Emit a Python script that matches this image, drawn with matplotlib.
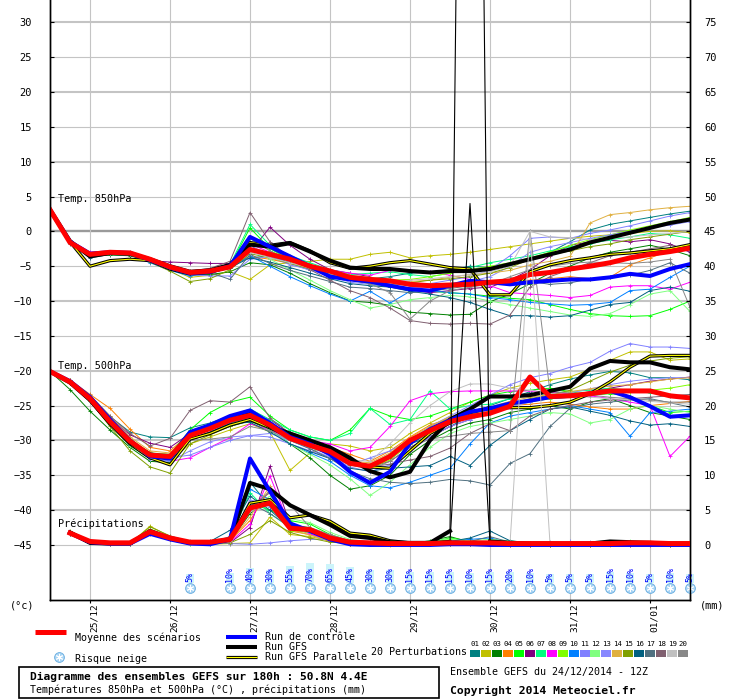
import numpy as np
import matplotlib.pyplot as plt
import matplotlib.transforms as mtransforms
from matplotlib.patches import Rectangle

plt.rcParams['font.family'] = ['DejaVu Sans Mono', 'DejaVu Sans']

nan = np.nan

# time axis: 6h steps from 24/12 12Z
hours = list(range(0, 193, 6))
date_hours = [12, 36, 60, 84, 108, 132, 156, 180]
date_labels = ['25/12', '26/12', '27/12', '28/12', '29/12', '30/12', '31/12', '01/01']

pert_colors = ['#008080', '#c0c000', '#008000', '#ff8000', '#00ff00', '#800080', '#00ff80',
               '#ff00ff', '#80ff00', '#0080ff', '#8080ff', '#80ff80', '#8888ff', '#e0b040',
               '#80a000', '#006080', '#507080', '#806070', '#c0c0c0', '#888888']

# ---- Temp 850 hPa (degC)
t850_mean = [3.1, -1.6, -3.3, -3.0, -3.1, -4.0, -5.1, -5.9, -5.7, -5.1, -2.6, -3.3, -4.0, -5.0, -5.7, -6.6, -6.9, -7.1, -7.6, -7.8, -7.7, -7.6, -7.3, -7.1, -6.2, -5.9, -5.4, -5.0, -4.5, -3.8, -3.3, -2.9, -2.4]
t850_ctrl = [3.1, -1.5, -3.2, -3.0, -3.1, -4.1, -5.2, -6.0, -5.8, -5.0, -0.8, -2.2, -3.6, -5.0, -6.5, -6.9, -7.2, -7.8, -8.3, -8.5, -7.8, -7.1, -7.3, -7.6, -7.3, -7.1, -6.9, -6.9, -6.6, -6.1, -6.4, -5.4, -4.7]
t850_gfs = [3.1, -1.4, -3.6, -3.1, -3.2, -4.0, -5.0, -5.8, -5.6, -4.8, -1.9, -2.2, -1.7, -2.9, -4.2, -5.2, -5.4, -5.4, -5.7, -5.9, -5.7, -5.7, -5.4, -4.7, -4.0, -3.3, -2.6, -1.6, -0.9, -0.2, 0.5, 1.2, 1.7]
t850_gfsp = [3.1, -1.5, -5.0, -4.2, -4.0, -4.2, -5.4, -6.1, -5.9, -5.0, -1.6, -2.0, -1.6, -2.8, -4.5, -5.3, -5.0, -4.5, -4.2, -4.7, -5.2, -5.4, -9.1, -9.1, -5.8, -4.8, -4.2, -3.8, -3.3, -3.1, -2.8, -2.5, -1.9]
t850_pert = [
    [3.0, -1.8, -3.6, -3.2, -3.3, -4.1, -5.0, -5.8, -5.5, -4.8, -3.8, -3.5, -4.5, -5.5, -6.0, -6.5, -6.8, -6.5, -6.0, -5.8, -5.5, -5.0, -5.2, -4.8, -4.0, -3.0, -1.5, 0.2, 1.0, 1.5, 2.0, 2.5, 2.9],
    [3.0, -1.7, -3.4, -3.1, -3.3, -4.2, -5.4, -6.6, -6.3, -5.8, -6.9, -4.8, -4.5, -4.3, -4.0, -4.0, -3.3, -3.0, -3.8, -3.5, -3.3, -3.0, -2.6, -2.2, -1.8, -1.4, -1.0, -0.7, -0.5, -0.3, 0.0, 0.1, -0.2],
    [3.0, -1.5, -3.6, -3.4, -3.5, -4.3, -5.5, -6.3, -6.2, -5.8, -4.5, -4.8, -6.0, -7.5, -8.8, -10.0, -10.2, -10.6, -11.6, -11.8, -12.0, -11.9, -10.1, -9.0, -7.5, -6.0, -5.0, -3.8, -3.0, -2.5, -2.0, -2.6, -3.5],
    [3.0, -1.4, -3.3, -2.9, -3.0, -3.9, -5.0, -5.7, -5.5, -4.9, -3.6, -4.0, -4.6, -5.5, -6.0, -6.8, -7.0, -7.3, -7.6, -7.9, -8.0, -7.8, -7.5, -7.2, -7.0, -6.8, -6.5, -6.8, -6.6, -4.8, -3.8, -2.8, -1.9],
    [3.0, -1.6, -3.4, -3.1, -3.2, -4.0, -5.2, -6.0, -5.8, -5.0, 0.5, -2.5, -4.0, -4.8, -5.8, -7.0, -7.5, -8.0, -8.3, -8.6, -8.8, -9.0, -9.3, -9.6, -9.8, -10.5, -11.2, -11.8, -12.1, -12.2, -12.1, -11.2, -10.0],
    [3.0, -1.6, -3.3, -3.0, -3.3, -4.2, -4.4, -4.5, -4.6, -4.6, -3.0, 0.6, -2.0, -4.0, -5.5, -6.0, -6.5, -7.8, -8.4, -8.8, -8.5, -8.2, -8.0, -7.0, -5.5, -3.5, -2.0, -1.5, -1.3, -1.5, -1.2, -1.8, -3.0],
    [3.0, -1.5, -3.2, -3.0, -3.1, -4.0, -5.0, -5.9, -5.6, -4.8, 1.0, -2.0, -3.5, -4.5, -5.5, -6.2, -6.0, -5.8, -6.2, -6.5, -6.0, -5.2, -4.5, -4.0, -3.5, -2.8, -2.2, -1.8, -1.2, -0.8, -0.3, -0.5, -1.0],
    [3.0, -1.3, -3.0, -2.9, -3.1, -3.9, -5.0, -5.8, -5.5, -4.9, -1.8, -3.0, -4.2, -5.0, -5.6, -6.0, -6.3, -5.6, -5.6, -5.8, -6.3, -6.9, -7.8, -8.8, -9.0, -9.2, -9.5, -9.2, -8.0, -7.8, -7.8, -8.3, -7.3],
    [3.0, -1.5, -3.4, -3.1, -3.2, -4.1, -5.2, -6.1, -5.9, -5.0, -1.0, -2.8, -4.0, -5.0, -5.8, -6.5, -6.8, -7.0, -6.9, -6.5, -6.0, -5.5, -5.0, -4.5, -3.8, -3.0, -2.0, -1.2, -0.5, 0.2, 0.8, 1.4, 2.0],
    [3.0, -1.6, -3.5, -3.3, -3.4, -4.5, -5.6, -6.4, -6.0, -5.3, -3.5, -5.0, -6.5, -7.8, -9.0, -10.0, -8.6, -10.3, -8.6, -8.5, -8.8, -9.0, -9.5, -9.8, -10.2, -10.4, -10.6, -10.5, -10.2, -8.5, -8.3, -6.6, -5.0],
    [3.0, -1.4, -3.1, -2.9, -3.0, -4.0, -5.3, -6.2, -6.4, -6.4, -4.0, -3.6, -4.8, -5.5, -6.3, -7.0, -7.2, -7.5, -7.8, -7.5, -7.0, -6.5, -5.5, -3.5, -1.0, -0.8, -1.0, -0.3, 0.2, 0.8, 1.5, 2.2, 2.7],
    [3.0, -1.6, -3.4, -3.2, -3.3, -4.1, -5.3, -6.1, -5.8, -5.2, -2.5, -4.0, -5.5, -7.0, -8.5, -9.8, -11.0, -10.5, -9.8, -9.5, -9.2, -9.4, -10.0, -10.5, -11.0, -11.5, -12.0, -12.2, -11.8, -10.5, -9.0, -8.5, -11.5],
    [3.0, -1.5, -3.2, -3.0, -3.2, -4.1, -5.1, -5.8, -5.5, -4.6, -2.0, -3.5, -4.6, -5.6, -6.4, -7.3, -7.6, -7.9, -8.1, -8.0, -7.6, -7.2, -6.5, -5.0, -3.0, -2.2, -1.6, -1.0, -0.5, 0.0, 0.5, 0.9, 1.4],
    [3.0, -1.5, -3.5, -3.2, -3.3, -4.2, -5.2, -5.9, -5.6, -4.9, -2.8, -3.2, -4.0, -4.8, -5.5, -6.3, -6.6, -6.9, -7.2, -7.0, -6.6, -6.2, -6.0, -5.6, -4.8, -4.3, -3.6, 1.2, 2.4, 2.7, 3.1, 3.4, 3.6],
    [3.0, -1.6, -3.5, -3.3, -3.4, -4.4, -5.7, -7.2, -6.8, -5.5, -3.2, -3.8, -4.6, -5.4, -6.2, -7.0, -7.4, -7.6, -7.4, -7.0, -6.8, -6.5, -6.0, -5.2, -4.0, -3.4, -2.8, -2.2, -1.8, -1.2, -0.8, -0.4, 0.0],
    [3.0, -1.7, -3.8, -3.3, -3.4, -4.3, -5.3, -6.1, -5.9, -5.2, -3.8, -4.4, -5.2, -6.0, -6.8, -7.5, -7.8, -8.0, -8.6, -9.0, -9.5, -10.2, -11.2, -12.1, -12.1, -12.3, -12.1, -11.3, -10.5, -10.2, -8.5, -8.0, -8.6],
    [3.0, -1.6, -3.5, -3.2, -3.3, -4.2, -5.3, -6.0, -5.9, -6.9, -3.3, -4.6, -5.6, -6.4, -7.2, -8.0, -8.2, -8.5, -8.8, -8.6, -8.2, -7.8, -7.4, -7.0, -7.2, -7.6, -7.4, -6.8, -6.6, -6.3, -5.6, -4.5, -6.0],
    [3.0, -1.4, -3.2, -3.0, -3.1, -4.0, -5.0, -5.7, -5.3, -4.3, 2.7, -1.5, -3.8, -5.5, -7.0, -8.5, -9.5, -11.0, -12.8, -13.2, -13.3, -13.2, -13.3, -12.0, -8.0, -6.5, -5.5, -4.5, -3.5, -3.0, -2.5, -2.0, -2.5],
    [3.0, -1.5, -3.3, -3.1, -3.2, -4.0, -5.0, -5.8, -5.6, -5.0, -3.0, -3.8, -4.5, -5.3, -6.0, -6.8, -7.0, -7.2, -7.0, -6.8, -6.5, -6.2, -5.8, -5.0, 0.0, -0.8, -0.9, -1.2, -1.0, -0.8, -0.5, -0.3, 0.0],
    [3.0, -1.5, -3.3, -3.0, -3.2, -4.1, -5.1, -5.9, -5.6, -4.9, -1.0, -2.8, -4.2, -5.2, -6.2, -7.0, -7.5, -8.8, -12.6, -10.0, -8.5, -8.0, -7.6, -6.5, -5.5, -5.0, -4.6, -4.4, -4.5, -4.6, -4.4, -4.0, -10.9],
]

# ---- Temp 500 hPa (degC)
t500_mean = [-20.1, -21.6, -24.0, -27.3, -30.1, -32.1, -32.3, -29.3, -28.3, -27.1, -26.4, -27.8, -29.7, -30.7, -31.6, -33.3, -33.7, -32.3, -30.0, -28.6, -27.3, -26.6, -26.1, -25.1, -20.9, -23.7, -23.6, -23.3, -22.9, -22.9, -22.9, -23.6, -23.9]
t500_ctrl = [-20.1, -21.5, -23.8, -27.0, -30.0, -32.3, -32.6, -28.8, -27.8, -26.5, -25.7, -27.5, -29.5, -30.5, -32.0, -34.5, -36.1, -34.5, -30.4, -28.4, -27.1, -25.9, -25.4, -24.7, -24.3, -23.8, -23.6, -23.3, -22.9, -23.8, -25.1, -26.6, -26.4]
t500_gfs = [-20.1, -21.7, -24.2, -27.5, -30.3, -32.0, -32.5, -29.0, -28.0, -27.0, -26.2, -28.0, -29.0, -30.0, -31.0, -32.5, -34.4, -35.3, -34.5, -30.0, -27.0, -25.5, -23.7, -23.7, -23.5, -22.9, -22.3, -19.7, -18.6, -18.8, -18.8, -19.5, -19.8]
t500_gfsp = [-20.1, -21.6, -24.2, -27.6, -30.5, -32.5, -33.5, -29.8, -29.0, -27.8, -27.0, -28.2, -29.5, -30.3, -31.5, -33.0, -33.8, -34.0, -31.5, -29.0, -27.5, -26.0, -25.3, -25.3, -25.3, -25.0, -24.5, -23.3, -21.6, -19.5, -17.9, -17.8, -17.8]
t500_pert = [
    [-20.0, -21.4, -23.6, -26.6, -28.8, -29.5, -29.6, -28.2, -27.5, -26.5, -27.0, -28.0, -29.0, -30.0, -31.5, -33.0, -33.5, -32.0, -30.5, -29.5, -28.0, -26.5, -25.0, -24.0, -23.0, -22.0, -21.2, -20.6, -20.1, -20.3, -21.0, -21.0, -21.3],
    [-20.1, -21.7, -24.2, -27.5, -30.2, -32.5, -33.0, -30.5, -29.5, -28.5, -27.6, -28.8, -34.3, -31.8, -30.5, -30.8, -31.5, -31.0, -29.0, -27.5, -26.0, -24.5, -23.5, -22.5, -21.8, -21.3, -20.9, -19.8, -18.5, -17.3, -17.3, -18.5, -18.3],
    [-20.1, -22.7, -25.8, -28.5, -31.0, -33.0, -33.2, -30.0, -29.0, -28.0, -27.2, -28.5, -30.5, -32.5, -35.0, -37.0, -36.5, -35.0, -32.0, -30.0, -28.5, -27.5, -27.0, -26.0, -25.5, -25.0, -25.5, -24.5, -24.0, -25.0, -26.0, -26.5, -27.0],
    [-20.1, -21.3, -23.4, -25.4, -28.4, -31.0, -31.5, -29.0, -28.0, -27.0, -26.0, -27.5, -29.0, -30.5, -31.0, -32.0, -33.0, -31.5, -29.5, -27.8, -26.8, -26.0, -25.5, -25.0, -24.8, -24.5, -24.8, -25.2, -25.5, -25.5, -25.0, -24.7, -24.4],
    [-20.1, -21.6, -24.0, -27.0, -29.8, -31.8, -32.0, -28.5, -26.0, -24.5, -23.8, -26.5, -28.5, -29.5, -30.0, -28.5, -25.4, -26.5, -27.0, -26.5, -25.5, -24.5, -23.5, -23.0, -22.8, -22.5, -23.0, -23.5, -23.3, -23.6, -25.0, -26.0, -25.8],
    [-20.1, -21.5, -23.7, -26.8, -29.2, -30.4, -31.0, -29.0, -28.5, -27.5, -26.5, -27.0, -29.0, -30.5, -31.8, -33.2, -33.8, -33.0, -31.0, -29.5, -28.0, -27.0, -26.0, -25.0, -24.2, -23.8, -23.5, -23.0, -22.5, -22.0, -21.5, -21.2, -20.9],
    [-20.1, -21.6, -24.0, -27.2, -30.0, -32.0, -32.2, -29.0, -28.0, -26.5, -25.5, -27.0, -28.5, -29.5, -30.0, -29.0, -25.4, -27.7, -27.0, -22.9, -25.5, -25.0, -24.8, -24.0, -23.5, -23.2, -23.0, -22.8, -22.5, -22.8, -23.2, -23.5, -24.0],
    [-20.1, -21.5, -23.8, -27.0, -30.0, -32.2, -33.0, -32.5, -31.0, -29.6, -27.6, -28.5, -29.8, -30.0, -30.5, -31.5, -31.0, -28.0, -24.3, -23.3, -23.0, -22.9, -22.9, -22.9, -22.9, -23.1, -23.3, -23.6, -24.0, -24.5, -25.0, -32.3, -29.4],
    [-20.1, -21.7, -24.1, -27.4, -30.2, -32.2, -32.5, -29.5, -28.5, -27.5, -26.8, -28.0, -29.8, -31.0, -32.0, -33.5, -34.0, -32.8, -30.5, -29.0, -27.5, -26.5, -25.8, -25.0, -24.5, -24.0, -23.8, -23.5, -23.0, -23.0, -22.8, -22.5, -22.0],
    [-20.1, -21.6, -24.1, -27.6, -30.6, -32.6, -33.0, -29.8, -28.8, -27.5, -26.5, -28.5, -30.5, -31.8, -33.0, -35.0, -36.5, -36.8, -36.0, -35.0, -34.0, -30.5, -27.5, -26.5, -26.0, -25.5, -25.0, -25.5, -26.0, -29.4, -26.0, -25.8, -25.5],
    [-20.1, -21.6, -24.0, -27.5, -30.5, -32.5, -32.5, -32.1, -31.0, -30.0, -29.3, -29.5, -30.5, -31.5, -32.5, -33.5, -32.5, -31.5, -30.0, -28.0, -26.5, -25.0, -23.5, -22.0, -21.0, -20.4, -19.5, -18.8, -17.2, -16.1, -16.6, -16.6, -16.8],
    [-20.1, -21.8, -24.3, -27.8, -30.8, -32.6, -32.8, -29.8, -28.8, -27.8, -27.0, -28.5, -30.5, -32.0, -33.5, -35.5, -37.9, -36.0, -33.5, -31.0, -29.0, -28.0, -27.5, -27.0, -26.5, -26.0, -26.2, -27.5, -27.0, -25.5, -25.0, -25.5, -26.0],
    [-20.1, -21.5, -23.9, -27.3, -30.4, -32.6, -33.0, -31.5, -30.2, -29.5, -29.3, -29.0, -30.0, -31.2, -32.4, -33.8, -34.5, -33.5, -31.5, -29.5, -28.0, -27.0, -26.0, -25.2, -24.5, -23.8, -23.2, -22.6, -22.0, -21.5, -21.2, -21.0, -21.0],
    [-20.1, -21.4, -23.6, -26.5, -29.5, -31.5, -31.8, -29.0, -28.0, -26.8, -26.0, -27.5, -29.2, -30.4, -31.4, -33.0, -33.2, -31.8, -29.6, -28.0, -26.6, -25.8, -25.2, -24.4, -23.8, -23.4, -23.0, -22.6, -22.2, -22.0, -21.6, -21.2, -21.0],
    [-20.1, -21.8, -24.4, -28.0, -31.5, -33.8, -34.7, -30.5, -29.2, -28.0, -27.0, -28.0, -29.6, -30.8, -31.8, -33.5, -34.0, -32.5, -30.0, -28.2, -26.8, -26.2, -25.6, -24.8, -24.0, -23.5, -22.8, -21.5, -20.2, -19.2, -18.6, -18.2, -18.0],
    [-20.1, -21.7, -24.2, -27.6, -30.4, -32.4, -32.7, -29.8, -28.8, -27.6, -27.4, -28.8, -30.5, -31.6, -32.6, -34.0, -34.4, -34.0, -33.8, -33.6, -32.3, -33.6, -30.7, -28.6, -27.0, -25.5, -25.2, -25.8, -26.4, -27.2, -27.8, -27.6, -28.0],
    [-20.1, -21.6, -24.0, -27.4, -30.2, -32.2, -32.4, -29.4, -28.4, -27.4, -26.8, -28.2, -30.0, -31.2, -32.6, -34.4, -35.5, -36.0, -36.2, -36.0, -35.6, -35.8, -36.4, -33.3, -31.9, -28.0, -25.4, -24.8, -24.5, -24.2, -24.0, -24.6, -25.2],
    [-20.1, -21.4, -23.5, -26.5, -29.0, -30.8, -29.7, -25.7, -24.3, -24.5, -22.3, -26.8, -29.0, -30.6, -31.8, -33.2, -33.8, -33.4, -32.8, -32.3, -31.1, -29.0, -27.6, -28.6, -26.5, -25.5, -25.0, -24.5, -24.2, -24.0, -23.8, -23.6, -23.4],
    [-20.1, -21.6, -24.0, -27.2, -30.0, -32.0, -32.2, -29.2, -28.2, -27.0, -26.2, -27.6, -29.4, -30.4, -31.4, -32.8, -33.0, -30.5, -27.5, -25.0, -23.0, -21.9, -21.9, -22.5, -22.8, -23.2, -23.6, -23.8, -24.0, -24.2, -24.4, -24.6, -24.8],
    [-20.1, -21.7, -24.1, -27.4, -30.3, -32.4, -32.6, -30.0, -29.8, -29.5, -28.0, -28.6, -30.0, -31.0, -32.0, -33.5, -34.2, -33.0, -31.0, -29.8, -29.4, -29.0, -28.8, -28.6, 0.0, -23.0, -23.2, -23.5, -23.8, -24.0, -24.2, -24.5, -24.5],
]

# ---- Precipitation over 6h (mm)
rr_mean = [nan, 1.7, 0.5, 0.3, 0.3, 1.9, 1.0, 0.4, 0.4, 0.8, 5.3, 6.0, 2.4, 2.2, 1.0, 0.4, 0.3, 0.2, 0.2, 0.2, 0.3, 0.3, 0.3, 0.2, 0.2, 0.2, 0.2, 0.2, 0.2, 0.3, 0.3, 0.2, 0.2]
rr_ctrl = [nan, 1.7, 0.4, 0.2, 0.2, 1.6, 0.8, 0.2, 0.1, 0.8, 12.4, 7.7, 3.1, 2.0, 0.8, 0.1, 0.0, 0.0, 0.0, 0.0, 0.1, 0.1, 0.0, 0.0, 0.0, 0.0, 0.0, 0.0, 0.0, 0.0, 0.0, 0.0, 0.0]
rr_gfs = [nan, 1.8, 0.3, 0.2, 0.2, 2.0, 0.9, 0.3, 0.3, 0.8, 8.9, 8.0, 5.7, 4.3, 2.9, 1.3, 1.0, 0.4, 0.3, 0.3, 2.0, 260.0, 0.5, 0.3, 0.2, 0.2, 0.1, 0.2, 0.5, 0.4, 0.3, 0.2, 0.2]
rr_gfsp = [nan, 1.7, 0.3, 0.2, 0.2, 2.0, 1.0, 0.3, 0.3, 0.7, 6.0, 6.5, 3.9, 4.3, 3.4, 1.7, 1.4, 0.6, 0.3, 0.3, 0.5, 49.0, 0.4, 0.3, 0.2, 0.1, 0.1, 0.2, 0.3, 0.3, 0.2, 0.2, 0.1]
rr_pert = [
    [nan, 1.6, 0.4, 0.1, 0.1, 1.7, 0.9, 0.3, 0.2, 1.0, 9.0, 5.5, 2.2, 1.8, 0.8, 0.3, 0.2, 0.1, 0.1, 0.2, 0.5, 0.3, 0.5, 0.3, 0.1, 0.0, 0.0, 0.1, 0.2, 0.2, 0.1, 0.0, 0.0],
    [nan, 1.9, 0.5, 0.2, 0.2, 2.7, 1.2, 0.4, 0.1, 0.2, 0.3, 4.0, 1.5, 1.2, 0.6, 0.2, 0.1, 0.0, 0.1, 0.2, 0.3, 0.2, 0.1, 0.0, 0.0, 0.1, 0.1, 0.1, 0.0, 0.0, 0.0, 0.1, 0.1],
    [nan, 1.7, 0.4, 0.2, 0.1, 2.2, 1.1, 0.3, 0.2, 0.5, 4.5, 6.5, 2.8, 2.5, 1.2, 0.3, 0.2, 0.1, 0.2, 0.6, 1.2, 0.4, 0.3, 0.2, 0.1, 0.0, 0.0, 0.1, 0.3, 0.3, 0.2, 0.1, 0.1],
    [nan, 1.8, 0.5, 0.2, 0.2, 1.8, 1.0, 0.4, 0.3, 0.6, 3.5, 8.0, 2.0, 1.5, 0.5, 0.2, 0.1, 0.1, 0.0, 0.1, 0.1, 0.2, 0.2, 0.1, 0.0, 0.0, 0.0, 0.0, 0.1, 0.1, 0.0, 0.0, 0.0],
    [nan, 1.5, 0.3, 0.1, 0.1, 2.0, 0.8, 0.2, 0.2, 0.7, 6.0, 5.0, 3.5, 3.0, 1.5, 0.6, 0.3, 0.2, 0.2, 0.4, 1.0, 0.6, 0.3, 0.2, 0.1, 0.0, 0.0, 0.0, 0.1, 0.2, 0.3, 0.2, 0.1],
    [nan, 1.6, 0.4, 0.2, 0.2, 1.6, 0.9, 0.3, 0.2, 0.3, 2.5, 11.3, 3.0, 2.0, 0.8, 0.3, 0.2, 0.1, 0.1, 0.1, 0.1, 0.1, 0.1, 0.0, 0.0, 0.0, 0.0, 0.1, 0.1, 0.0, 0.0, 0.0, 0.0],
    [nan, 1.7, 0.4, 0.2, 0.2, 2.1, 1.0, 0.3, 0.2, 0.9, 7.5, 4.5, 2.5, 2.0, 1.0, 0.4, 0.2, 0.1, 0.1, 0.2, 0.4, 0.3, 0.3, 0.2, 0.1, 0.1, 0.0, 0.1, 0.2, 0.2, 0.1, 0.1, 0.0],
    [nan, 1.6, 0.3, 0.1, 0.1, 1.9, 1.1, 0.4, 0.2, 0.4, 3.0, 9.9, 2.6, 1.6, 0.6, 0.2, 0.1, 0.1, 0.1, 0.1, 0.3, 0.2, 0.1, 0.1, 0.0, 0.0, 0.0, 0.0, 0.1, 0.1, 0.0, 0.0, 0.0],
    [nan, 1.8, 0.4, 0.2, 0.2, 2.3, 1.2, 0.4, 0.3, 0.8, 5.5, 6.0, 2.0, 1.8, 0.9, 0.3, 0.2, 0.1, 0.1, 0.3, 0.8, 0.4, 0.2, 0.1, 0.1, 0.0, 0.0, 0.1, 0.2, 0.2, 0.1, 0.0, 0.0],
    [nan, 1.7, 0.4, 0.2, 0.2, 1.8, 0.9, 0.3, 0.2, 0.9, 8.0, 6.5, 2.8, 2.2, 1.0, 0.4, 0.2, 0.1, 0.1, 0.2, 0.6, 0.8, 1.0, 0.3, 0.2, 0.1, 0.0, 0.1, 0.2, 0.2, 0.1, 0.0, 0.0],
    [nan, 1.9, 0.6, 0.3, 0.3, 2.2, 1.3, 0.5, 0.3, 0.2, 0.1, 0.3, 0.6, 0.8, 0.8, 0.6, 0.5, 0.4, 0.3, 0.2, 0.2, 0.2, 0.2, 0.3, 0.3, 0.4, 0.5, 0.4, 0.3, 0.2, 0.1, 0.1, 0.1],
    [nan, 1.6, 0.3, 0.1, 0.1, 1.7, 0.8, 0.2, 0.1, 0.6, 5.0, 7.0, 3.8, 3.2, 1.8, 0.8, 0.4, 0.3, 0.3, 0.5, 0.9, 0.6, 0.8, 0.6, 0.3, 0.2, 0.1, 0.2, 0.4, 0.5, 0.4, 0.3, 0.2],
    [nan, 1.7, 0.5, 0.2, 0.2, 2.0, 1.0, 0.3, 0.2, 0.7, 6.5, 5.5, 2.4, 2.0, 1.0, 0.4, 0.2, 0.1, 0.1, 0.2, 0.3, 0.2, 0.2, 0.1, 0.1, 0.0, 0.0, 0.1, 0.1, 0.1, 0.0, 0.0, 0.0],
    [nan, 1.8, 0.4, 0.2, 0.2, 1.9, 1.0, 0.3, 0.3, 0.5, 4.0, 8.5, 2.2, 1.4, 0.6, 0.2, 0.1, 0.1, 0.1, 0.1, 0.2, 0.1, 0.1, 0.1, 0.0, 0.0, 0.0, 0.0, 0.1, 0.1, 0.0, 0.0, 0.0],
    [nan, 2.0, 0.5, 0.2, 0.2, 2.6, 1.3, 0.4, 0.2, 0.3, 1.5, 3.5, 1.8, 1.0, 0.4, 0.2, 0.1, 0.1, 0.1, 0.1, 0.2, 0.1, 0.1, 0.1, 0.0, 0.0, 0.0, 0.0, 0.1, 0.1, 0.1, 0.0, 0.0],
    [nan, 1.7, 0.4, 0.2, 0.2, 1.8, 1.0, 0.4, 0.5, 2.1, 7.0, 5.0, 2.5, 2.0, 1.2, 0.5, 0.3, 0.2, 0.2, 0.3, 0.5, 1.0, 2.0, 0.6, 0.3, 0.2, 0.1, 0.2, 0.3, 0.3, 0.2, 0.1, 0.1],
    [nan, 1.6, 0.4, 0.2, 0.2, 1.7, 0.9, 0.3, 0.3, 1.2, 6.0, 4.5, 2.6, 2.2, 1.2, 0.5, 0.3, 0.2, 0.2, 0.3, 0.4, 0.5, 1.2, 0.4, 0.2, 0.1, 0.1, 0.2, 0.3, 0.3, 0.2, 0.1, 0.1],
    [nan, 1.7, 0.4, 0.2, 0.2, 2.0, 1.0, 0.4, 0.3, 0.8, 5.5, 7.5, 3.0, 2.4, 1.4, 0.5, 0.3, 0.2, 0.2, 0.3, 0.3, 0.2, 0.3, 0.3, 0.2, 0.1, 0.1, 0.2, 0.3, 0.2, 0.1, 0.1, 0.1],
    [nan, 1.7, 0.4, 0.2, 0.2, 1.9, 1.0, 0.3, 0.2, 0.6, 4.8, 6.2, 2.5, 2.0, 1.0, 0.3, 0.2, 0.1, 0.1, 0.2, 0.3, 0.3, 0.2, 0.2, 45.0, 0.2, 0.1, 0.1, 0.2, 0.2, 0.1, 0.1, 0.1],
    [nan, 1.8, 0.5, 0.2, 0.2, 2.1, 1.1, 0.4, 0.3, 0.7, 5.0, 7.8, 5.8, 2.5, 1.5, 0.6, 0.3, 0.2, 0.2, 0.2, 0.3, 0.2, 0.2, 0.2, 0.2, 0.1, 0.1, 0.1, 0.2, 0.2, 0.1, 0.1, 0.1],
]

# ---- snow risk (%)
snow_hours = [42, 54, 60, 66, 72, 78, 84, 90, 96, 102, 108, 114, 120, 126, 132, 138, 144,
              150, 156, 162, 168, 174, 180, 186, 192]
snow_pct = [5, 10, 40, 30, 55, 70, 65, 45, 30, 30, 15, 15, 15, 10, 15, 20, 10, 5, 5, 5, 15, 10, 5, 10, 5]

for s in [t850_mean, t850_ctrl, t850_gfs, t850_gfsp, t500_mean, t500_ctrl, t500_gfs, t500_gfsp,
          rr_mean, rr_ctrl, rr_gfs, rr_gfsp] + t850_pert + t500_pert + rr_pert:
    assert len(s) == len(hours), len(s)

W, H = 740, 700
PXD = 6.973          # pixels per degree
ylo, yhi = -52.9, 33.2

fig = plt.figure(figsize=(W / 100, H / 100), dpi=100)
ax = fig.add_axes([50 / W, 100 / H, 640 / W, 600 / H])
ax.set_xlim(0, 192)
ax.set_ylim(ylo, yhi)

# grid
for v in range(-45, 31, 5):
    if v == 0:
        ax.axhline(v, color='#9a9a9a', lw=1.7, zorder=0)
    else:
        ax.axhline(v, color='#c4c4c4', lw=1.5 if v % 10 == 0 else 0.8, zorder=0)
for h in date_hours:
    ax.axvline(h, color='#c4c4c4', lw=0.8, zorder=0)


def thin(axis, vals, c):
    axis.plot(hours, vals, color=c, lw=0.7, marker='+', ms=3, mew=0.6, zorder=2)


def runs(axis, mean, ctrl, gfs, gfsp, spike=None):
    # very large values (model glitches) are drawn as a thin 1px line only
    def bold(vals):
        if spike is None:
            return vals
        return [nan if v > spike else v for v in vals]
    if spike is not None:
        axis.plot(hours, gfsp, color='black', lw=0.8, zorder=3)
        axis.plot(hours, gfs, color='black', lw=0.8, zorder=4)
    axis.plot(hours, bold(gfsp), color='black', lw=2.3, zorder=3)
    axis.plot(hours, bold(gfsp), color='#ffff00', lw=0.8, zorder=3)
    axis.plot(hours, bold(gfs), color='black', lw=2.9, zorder=4)
    axis.plot(hours, ctrl, color='#0000ff', lw=2.9, zorder=5)
    axis.plot(hours, mean, color='#ff0000', lw=3.6, zorder=6)


for i, c in enumerate(pert_colors):
    thin(ax, t850_pert[i], c)
    thin(ax, t500_pert[i], c)
runs(ax, t850_mean, t850_ctrl, t850_gfs, t850_gfsp)
runs(ax, t500_mean, t500_ctrl, t500_gfs, t500_gfsp)

# precipitation on the mm axis (0 mm = -45 degC)
ax2 = ax.twinx()
ax2.set_ylim(ylo + 45, yhi + 45)
for i, c in enumerate(pert_colors):
    thin(ax2, rr_pert[i], c)
runs(ax2, rr_mean, rr_ctrl, rr_gfs, rr_gfsp, spike=30)

for a in (ax, ax2):
    a.spines['top'].set_visible(False)
    for sp in ('left', 'right', 'bottom'):
        a.spines[sp].set_color('black')
        a.spines[sp].set_linewidth(1.0)

ax.set_yticks(range(-45, 31, 5))
ax.tick_params(axis='y', length=3, direction='in', labelsize=7.5, pad=13)
ax2.set_yticks(range(0, 76, 5))
ax2.tick_params(axis='y', length=3, direction='in', labelsize=7.5, pad=10)
ax.set_xticks(date_hours)
ax.set_xticklabels(date_labels, rotation=90, fontsize=6.8)
ax.tick_params(axis='x', length=2, direction='out', pad=0.5)
shift = mtransforms.ScaledTranslation(4 / 100, 0, fig.dpi_scale_trans)
for lab in ax.get_xticklabels():
    lab.set_transform(lab.get_transform() + shift)

# panel labels
ax.text(2.4, 4.6, 'Temp. 850hPa', fontsize=7.3, va='center', zorder=7)
ax.text(2.4, -19.3, 'Temp. 500hPa', fontsize=7.3, va='center', zorder=7)
ax.text(2.4, -41.9, 'Précipitations', fontsize=7.3, va='center', zorder=7)

# snow risk row
bar_h = [(8 + 0.17 * p) / PXD for p in snow_pct]
ax.bar(snow_hours, bar_h, bottom=-50.45, width=2.4, color='#ccf4fa', zorder=1, clip_on=False)
for h, p in zip(snow_hours, snow_pct):
    ax.text(h, -50.3, f'{p}%', rotation=90, ha='center', va='bottom', color='#0000ff',
            fontsize=6, zorder=7, clip_on=False)
ax.scatter(snow_hours, [-51.2] * len(snow_hours), s=50, color='#a8d4f4', edgecolors='#6aaee0',
           linewidths=0.6, zorder=7, clip_on=False)
ax.scatter(snow_hours, [-51.2] * len(snow_hours), s=22, marker=(6, 2, 0), color='white',
           linewidths=0.7, zorder=8, clip_on=False)

# ---- legend / footer in pixel coordinates
ov = fig.add_axes([0, 0, 1, 1])
ov.set_xlim(0, W)
ov.set_ylim(H, 0)
ov.axis('off')

ov.text(22, 606, '(°c)', fontsize=7.3, ha='center', va='center')
ov.text(712, 606, '(mm)', fontsize=7.3, ha='center', va='center')

ov.plot([35, 66], [632, 632], color='#ff0000', lw=3.6, solid_capstyle='butt')
ov.text(75, 638, 'Moyenne des scénarios', fontsize=7.2, va='center')
ov.scatter([59], [657], s=50, color='#a8d4f4', edgecolors='#6aaee0', linewidths=0.6)
ov.scatter([59], [657], s=22, marker=(6, 2, 0), color='white', linewidths=0.7)
ov.text(75, 659, 'Risque neige', fontsize=7.2, va='center')

ov.plot([226, 257], [637, 637], color='#0000ff', lw=2.9, solid_capstyle='butt')
ov.text(265, 637, 'Run de contrôle', fontsize=7.2, va='center')
ov.plot([226, 257], [647, 647], color='black', lw=2.9, solid_capstyle='butt')
ov.text(265, 647, 'Run GFS', fontsize=7.2, va='center')
ov.plot([226, 257], [657, 657], color='black', lw=2.3, solid_capstyle='butt')
ov.plot([226, 257], [657, 657], color='#ffff00', lw=0.8, solid_capstyle='butt')
ov.text(265, 657, 'Run GFS Parallele', fontsize=7.2, va='center')

ov.text(371, 652, '20 Perturbations', fontsize=7.2, va='center')
for i, c in enumerate(pert_colors):
    x0 = 470 + i * 10.95
    ov.add_patch(Rectangle((x0, 650), 10, 7, color=c, lw=0))
    ov.text(x0 + 5, 644, f'{i + 1:02d}', fontsize=5.3, ha='center', va='center')

ov.add_patch(Rectangle((19, 667), 420, 31, fill=False, ec='black', lw=1.2))
ov.text(30, 677, 'Diagramme des ensembles GEFS sur 180h : 50.8N 4.4E', fontsize=8.1,
        fontweight='bold', va='center')
ov.text(30, 690, 'Températures 850hPa et 500hPa (°C) , précipitations (mm)', fontsize=7.2,
        va='center')
ov.text(450, 672, 'Ensemble GEFS du 24/12/2014 - 12Z', fontsize=7.2, va='center')
ov.text(450, 691, 'Copyright 2014 Meteociel.fr', fontsize=8.2, fontweight='bold', va='center')

fig.savefig('out.png', dpi=100)
